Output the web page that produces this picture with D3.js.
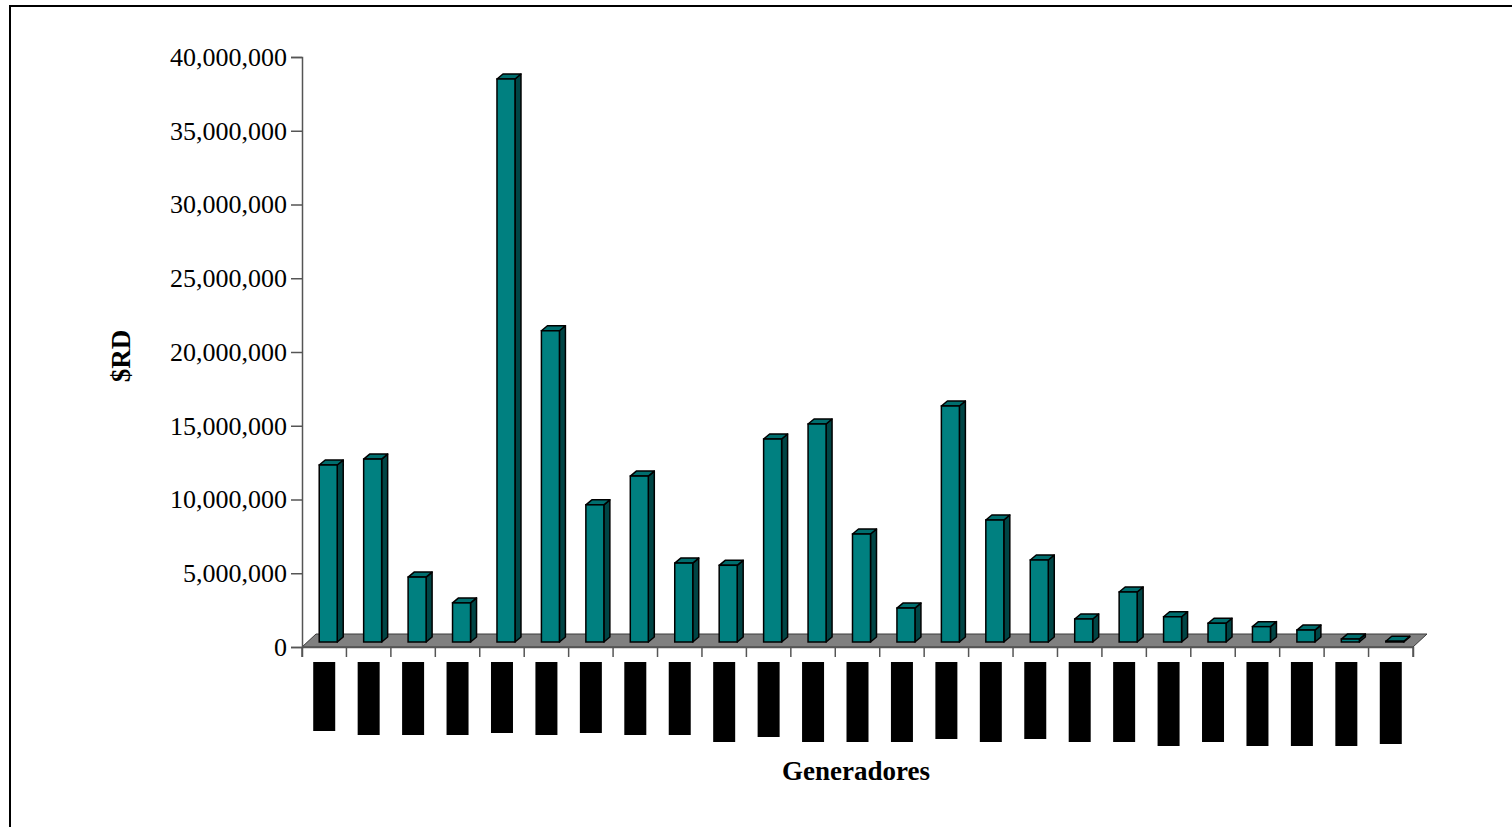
<!DOCTYPE html>
<html>
<head>
<meta charset="utf-8">
<script src="https://cdn.jsdelivr.net/npm/d3@7"></script>
<style>
  html, body { margin: 0; padding: 0; background: #fff; overflow: hidden; }
  svg { display: block; }
</style>
</head>
<body>
<svg id="chart" width="1512" height="827"></svg>
<script>
// Generators (names withheld on the printed chart)
const categories = ["G01","G02","G03","G04","G05","G06","G07","G08","G09","G10",
                    "G11","G12","G13","G14","G15","G16","G17","G18","G19","G20",
                    "G21","G22","G23","G24","G25"];
// Amount per generator, $RD
const amounts = [12000000, 12400000, 4400000, 2650000, 38170000, 21100000, 9300000,
                 11250000, 5350000, 5200000, 13760000, 14780000, 7320000, 2300000,
                 16000000, 8270000, 5560000, 1560000, 3390000, 1710000, 1270000,
                 1040000, 810000, 200000, 50000];
const yTicks = [0, 5000000, 10000000, 15000000, 20000000, 25000000, 30000000, 35000000, 40000000];

// Length of the blacked-out name block under each category (px)
const labelDepth = [69, 73, 73, 73, 71, 73, 71, 73, 73, 80, 75, 80, 80, 80, 77,
                    80, 77, 80, 80, 84, 80, 84, 84, 84, 82];

const svg = d3.select("#chart");

// frame
svg.append("rect")
  .attr("x", 10).attr("y", 6).attr("width", 1530).attr("height", 850)
  .attr("fill", "none").attr("stroke", "#000").attr("stroke-width", 2);

const x = d3.scaleBand().domain(categories).range([302, 1413]).padding(0);
const y = d3.scaleLinear().domain([0, 40000000]).range([647, 57]);

// floor depth and bar depth (oblique projection)
const floorDX = 14, floorDY = -13;
const barDX = 6, barDY = -5;
const barW = 18;
const baseLift = 5;   // bars stand slightly back on the floor

// floor
const fx0 = x.range()[0], fx1 = x.range()[1], fy = y(0);
svg.append("polygon")
  .attr("points", [[fx0, fy], [fx1, fy], [fx1 + floorDX, fy + floorDY], [fx0 + floorDX, fy + floorDY]].join(" "))
  .attr("fill", "#808080").attr("stroke", "#3a3a3a").attr("stroke-width", 1);

// value axis
const yAxis = d3.axisLeft(y).tickValues(yTicks).tickFormat(d3.format(",")).tickSize(11).tickPadding(4);
const gy = svg.append("g").attr("transform", `translate(${fx0},0)`).call(yAxis);
gy.select(".domain").attr("stroke", "#555").attr("stroke-width", 1.5);
gy.selectAll(".tick line").attr("stroke", "#555").attr("stroke-width", 1.5);
gy.selectAll(".tick text")
  .attr("font-family", "'Liberation Serif', 'Times New Roman', serif")
  .attr("font-size", 26).attr("fill", "#000");

// category axis
const xAxis = d3.axisBottom(x).tickSize(10).tickFormat("");
const gx = svg.append("g").attr("transform", `translate(0,${fy})`).call(xAxis);
gx.select(".domain").attr("stroke", "#555").attr("stroke-width", 1.5);
gx.selectAll(".tick").attr("transform", d => `translate(${x(d)},0)`);
gx.append("line").attr("x1", fx1).attr("x2", fx1).attr("y1", 0).attr("y2", 10)
  .attr("stroke", "#555").attr("stroke-width", 1.5);
gx.selectAll(".tick line").attr("stroke", "#555").attr("stroke-width", 1.5);

// bars
const bars = svg.append("g").selectAll("g.bar")
  .data(categories.map((c, i) => ({ c, v: amounts[i] })))
  .join("g").attr("class", "bar");

bars.each(function (d) {
  const g = d3.select(this);
  const cx = x(d.c) + x.bandwidth() / 2;
  const l = cx - 5, r = l + barW;
  const yb = y(0) - baseLift, yt = y(d.v) - baseLift;
  g.append("polygon")
    .attr("points", [[r, yt], [r + barDX, yt + barDY], [r + barDX, yb + barDY], [r, yb]].join(" "))
    .attr("fill", "#004545").attr("stroke", "#000").attr("stroke-width", 1.5).attr("stroke-linejoin", "round");
  g.append("polygon")
    .attr("points", [[l, yt], [l + barDX, yt + barDY], [r + barDX, yt + barDY], [r, yt]].join(" "))
    .attr("fill", "#006e6e").attr("stroke", "#000").attr("stroke-width", 1.5).attr("stroke-linejoin", "round");
  g.append("rect")
    .attr("x", l).attr("y", yt).attr("width", barW).attr("height", yb - yt)
    .attr("fill", "#008080").attr("stroke", "#000").attr("stroke-width", 1.5);
});

// blacked-out category names
svg.append("g").selectAll("rect")
  .data(categories)
  .join("rect")
  .attr("x", d => x(d) + x.bandwidth() / 2 - 11)
  .attr("y", 662)
  .attr("width", 22)
  .attr("height", (d, i) => labelDepth[i])
  .attr("fill", "#000");

// axis titles
svg.append("text")
  .attr("transform", "translate(130,356) rotate(-90)")
  .attr("text-anchor", "middle")
  .attr("font-family", "'Liberation Serif', 'Times New Roman', serif")
  .attr("font-weight", "bold").attr("font-size", 27)
  .text("$RD");

svg.append("text")
  .attr("x", 856).attr("y", 780)
  .attr("text-anchor", "middle")
  .attr("font-family", "'Liberation Serif', 'Times New Roman', serif")
  .attr("font-weight", "bold").attr("font-size", 27)
  .text("Generadores");
</script>
</body>
</html>
